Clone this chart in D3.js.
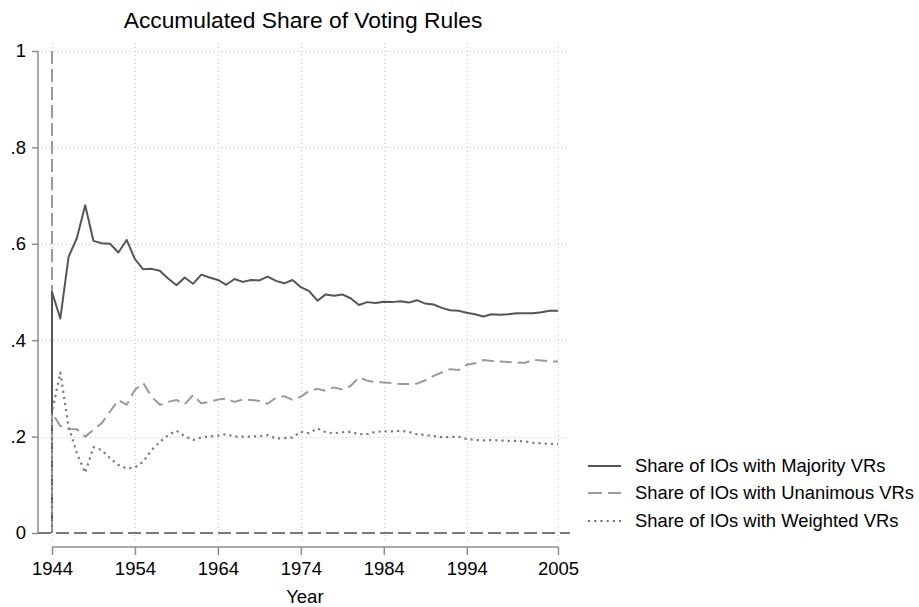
<!DOCTYPE html>
<html>
<head>
<meta charset="utf-8">
<script src="https://cdn.jsdelivr.net/npm/d3@7"></script>
<style>
  html, body { margin: 0; padding: 0; background: #fff; }
  svg { display: block; font-family: "Liberation Sans", Arial, Helvetica, sans-serif; }
</style>
</head>
<body>
<svg id="chart" width="919" height="607"></svg>
<script>
// Years covered by the series
const years = [
  1944, 1945, 1946, 1947, 1948, 1949, 1950, 1951, 1952, 1953,
  1954, 1955, 1956, 1957, 1958, 1959, 1960, 1961, 1962, 1963,
  1964, 1965, 1966, 1967, 1968, 1969, 1970, 1971, 1972, 1973,
  1974, 1975, 1976, 1977, 1978, 1979, 1980, 1981, 1982, 1983,
  1984, 1985, 1986, 1987, 1988, 1989, 1990, 1991, 1992, 1993,
  1994, 1995, 1996, 1997, 1998, 1999, 2000, 2001, 2002, 2003,
  2004, 2005
];

// Accumulated share of IOs by voting rule
const majority = [
  0.500, 0.445, 0.573, 0.612, 0.680, 0.606, 0.601, 0.600, 0.582, 0.608,
  0.568, 0.547, 0.548, 0.544, 0.528, 0.514, 0.530, 0.517, 0.536, 0.530,
  0.525, 0.515, 0.527, 0.521, 0.525, 0.524, 0.532, 0.523, 0.518, 0.525,
  0.510, 0.502, 0.482, 0.495, 0.492, 0.495, 0.487, 0.473, 0.479, 0.477,
  0.480, 0.479, 0.481, 0.478, 0.483, 0.476, 0.474, 0.467, 0.462, 0.461,
  0.457, 0.454, 0.449, 0.454, 0.453, 0.454, 0.456, 0.456, 0.456, 0.458,
  0.461, 0.461
];
const unanimous = [
  0.250, 0.222, 0.216, 0.215, 0.200, 0.214, 0.228, 0.252, 0.276, 0.266,
  0.297, 0.311, 0.283, 0.266, 0.272, 0.276, 0.267, 0.286, 0.269, 0.272,
  0.277, 0.279, 0.272, 0.277, 0.276, 0.274, 0.268, 0.281, 0.284, 0.276,
  0.283, 0.295, 0.299, 0.295, 0.302, 0.298, 0.305, 0.323, 0.316, 0.313,
  0.312, 0.311, 0.309, 0.309, 0.310, 0.317, 0.326, 0.333, 0.340, 0.338,
  0.349, 0.352, 0.359, 0.357, 0.356, 0.355, 0.353, 0.353, 0.359, 0.358,
  0.356, 0.356
];
const weighted = [
  0.250, 0.333, 0.221, 0.165, 0.125, 0.178, 0.172, 0.155, 0.141, 0.134,
  0.136, 0.148, 0.172, 0.189, 0.203, 0.212, 0.201, 0.193, 0.198, 0.200,
  0.202, 0.205, 0.200, 0.200, 0.200, 0.201, 0.203, 0.196, 0.197, 0.198,
  0.210, 0.207, 0.217, 0.209, 0.207, 0.209, 0.210, 0.205, 0.205, 0.210,
  0.211, 0.211, 0.212, 0.210, 0.205, 0.203, 0.201, 0.199, 0.199, 0.200,
  0.195, 0.193, 0.192, 0.193, 0.192, 0.191, 0.191, 0.190, 0.187, 0.186,
  0.185, 0.184
];

const xTicks = [1944, 1954, 1964, 1974, 1984, 1994, 2005];
const yTicks = [0, 0.2, 0.4, 0.6, 0.8, 1];
const yTickLabels = ["0", ".2", ".4", ".6", ".8", "1"];
const seriesNames = [
  "Share of IOs with Majority VRs",
  "Share of IOs with Unanimous VRs",
  "Share of IOs with Weighted VRs"
];

const svg = d3.select("#chart");

// Plot region (with padding around the axis ranges)
const region = { left: 38, right: 570, top: 43, bottom: 541 };
const x = d3.scaleLinear().domain([1944, 2005]).range([52, 558]);
const y = d3.scaleLinear().domain([0, 1]).range([533, 51]);

// Grid lines
const grid = svg.append("g").attr("class", "grid")
  .attr("stroke", "#c8c8c8").attr("stroke-width", 1)
  .attr("stroke-dasharray", "1,3");
grid.selectAll("line.h").data(yTicks.filter(d => d > 0)).join("line")
  .attr("class", "h")
  .attr("x1", region.left).attr("x2", region.right)
  .attr("y1", d => Math.round(y(d)) + 0.5).attr("y2", d => Math.round(y(d)) + 0.5);
grid.selectAll("line.v").data(xTicks).join("line")
  .attr("class", "v")
  .attr("x1", d => Math.round(x(d)) + 0.5).attr("x2", d => Math.round(x(d)) + 0.5)
  .attr("y1", region.top).attr("y2", region.bottom);

// Y axis
const yAxis = d3.axisLeft(y).tickValues(yTicks)
  .tickFormat((d, i) => yTickLabels[i]).tickSize(6).tickPadding(6);
const gy = svg.append("g").attr("transform", `translate(${region.left},0)`).call(yAxis);
gy.select(".domain").attr("stroke", "#8c8c8c").attr("stroke-width", 1.5)
  .attr("d", `M0,${y(1)}V${y(0)}`);
gy.selectAll(".tick line").attr("stroke", "#8c8c8c").attr("stroke-width", 1.5);
gy.selectAll(".tick text").attr("fill", "#000").style("font-size", "18.5px")
  .attr("font-family", null);

// X axis
const xAxis = d3.axisBottom(x).tickValues(xTicks).tickFormat(d3.format("d"))
  .tickSize(8).tickPadding(7);
const gx = svg.append("g").attr("transform", "translate(0,547)").call(xAxis);
gx.select(".domain").attr("stroke", "#8c8c8c").attr("stroke-width", 1.5)
  .attr("d", `M${x(1944)},0H${x(2005)}`);
gx.selectAll(".tick line").attr("stroke", "#8c8c8c").attr("stroke-width", 1.5);
gx.selectAll(".tick text").attr("fill", "#000").style("font-size", "18.5px")
  .attr("font-family", null);

// Reference lines at zero and at the first year
svg.append("line")
  .attr("x1", region.left).attr("x2", region.right)
  .attr("y1", y(0)).attr("y2", y(0))
  .attr("stroke", "#7a7a7a").attr("stroke-width", 2)
  .attr("stroke-dasharray", "13,5");
svg.append("line")
  .attr("x1", x(1944)).attr("x2", x(1944))
  .attr("y1", y(1)).attr("y2", y(0))
  .attr("stroke", "#9a9a9a").attr("stroke-width", 2)
  .attr("stroke-dasharray", "13,5");

// Series
const series = [
  { values: majority, color: "#555555", dash: null, width: 2 },
  { values: unanimous, color: "#9a9a9a", dash: "12,6", width: 2 },
  { values: weighted, color: "#7a7a7a", dash: "2.2,4", width: 2.2 }
];

const line = d3.line().x(d => x(d[0])).y(d => y(d[1]));

series.forEach(s => {
  // each accumulated share rises from zero in the first year
  const pts = [[years[0], 0]].concat(years.map((yr, i) => [yr, s.values[i]]));
  svg.append("path")
    .datum(pts)
    .attr("fill", "none")
    .attr("stroke", s.color)
    .attr("stroke-width", s.width)
    .attr("stroke-linejoin", "round")
    .attr("stroke-dasharray", s.dash)
    .attr("d", line);
});

// Title and axis title
svg.append("text")
  .attr("x", (region.left + region.right) / 2 - 1).attr("y", 28)
  .attr("text-anchor", "middle").style("font-size", "22.8px").attr("fill", "#000")
  .text("Accumulated Share of Voting Rules");
svg.append("text")
  .attr("x", x(1974) + 4).attr("y", 603)
  .attr("text-anchor", "middle").style("font-size", "18.5px").attr("fill", "#000")
  .text("Year");

// Legend
const legend = svg.append("g").attr("transform", "translate(588,0)");
const legendRows = [466, 493, 521];
series.forEach((s, i) => {
  legend.append("line")
    .attr("x1", 0).attr("x2", 33)
    .attr("y1", legendRows[i]).attr("y2", legendRows[i])
    .attr("stroke", s.color).attr("stroke-width", 2)
    .attr("stroke-dasharray", i === 1 ? "14,6" : s.dash);
  legend.append("text")
    .attr("x", 47).attr("y", legendRows[i])
    .attr("dy", "0.35em")
    .style("font-size", "18.4px").attr("fill", "#000")
    .text(seriesNames[i]);
});
</script>
</body>
</html>
